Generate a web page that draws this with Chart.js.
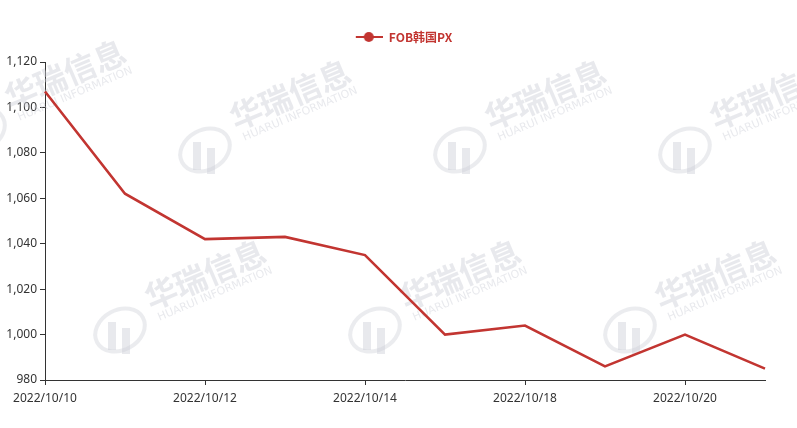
<!DOCTYPE html>
<html>
<head>
<meta charset="utf-8">
<script src="https://cdn.jsdelivr.net/npm/chart.js@4/dist/chart.umd.min.js"></script>
<style>
  html, body { margin: 0; padding: 0; background: #fff; }
  #wrap { width: 797px; height: 428px; }
</style>
</head>
<body>
<div id="wrap"><canvas id="chart" width="797" height="428"></canvas></div>
<script>
// データ
const dates = ['2022/10/10', '2022/10/11', '2022/10/12', '2022/10/13', '2022/10/14',
               '2022/10/17', '2022/10/18', '2022/10/19', '2022/10/20', '2022/10/21'];
const pxPrices = [1107, 1062, 1042, 1043, 1035, 1000, 1004, 986, 1000, 985];
const seriesName = 'FOB韩国PX';
const yMin = 980, yMax = 1120, yStep = 20;

const RED = '#c23531';
const MARKER_W = 70;

// 凡例マーカー（線＋丸）、左側は透明な余白
function legendMarker() {
    const c = document.createElement('canvas');
    c.width = MARKER_W; c.height = 14;
    const g = c.getContext('2d');
    g.strokeStyle = RED; g.lineWidth = 2;
    g.beginPath(); g.moveTo(MARKER_W - 27, 7); g.lineTo(MARKER_W, 7); g.stroke();
    g.fillStyle = RED;
    g.beginPath(); g.arc(MARKER_W - 14, 7, 5, 0, Math.PI * 2); g.fill();
    return c;
}

// 凡例の下に余白を追加
const legendGap = {
    id: 'legendGap',
    beforeInit(chart) {
        const fit = chart.legend.fit;
        chart.legend.fit = function () {
            fit.call(this);
            this.height += 9;
        };
    }
};

// 透かし（華瑞信息）
const watermark = {
    id: 'watermark',
    beforeDatasetsDraw(chart) {
        const ctx = chart.ctx;
        const spots = [[-20, 130], [205, 150], [460, 150], [685, 150], [120, 330], [375, 330], [630, 330]];
        ctx.save();
        spots.forEach(([x, y]) => {
            ctx.save();
            ctx.translate(x, y);
            ctx.strokeStyle = 'rgba(205,207,215,0.4)';
            ctx.lineWidth = 4;
            ctx.beginPath(); ctx.ellipse(0, 0, 26, 20, -0.5, 0, Math.PI * 2); ctx.stroke();
            ctx.fillStyle = 'rgba(205,207,215,0.45)';
            ctx.fillRect(-12, -8, 8, 28);
            ctx.fillRect(2, -2, 8, 26);
            ctx.rotate(-0.4);
            ctx.font = 'bold 32px "Noto Sans CJK SC"';
            ctx.fillText('华瑞信息', 36, -18);
            ctx.font = '11px "DejaVu Sans"';
            ctx.fillText('HUARUI INFORMATION', 40, 4);
            ctx.restore();
        });
        ctx.restore();
    }
};

new Chart(document.getElementById('chart'), {
    type: 'line',
    data: {
        labels: dates,
        datasets: [{
            label: seriesName,
            data: pxPrices,
            borderColor: RED,
            backgroundColor: RED,
            borderWidth: 2.6,
            pointRadius: 0,
            pointHoverRadius: 0,
            tension: 0,
            pointStyle: legendMarker()
        }]
    },
    options: {
        responsive: false,
        animation: false,
        layout: { padding: { left: 0, right: 32, top: 12, bottom: 0 } },
        plugins: {
            legend: {
                position: 'top',
                labels: {
                    usePointStyle: true,
                    pointStyleWidth: MARKER_W,
                    color: RED,
                    font: { family: 'Microsoft YaHei, "Noto Sans CJK SC", sans-serif', size: 12, weight: 'bold' },
                    padding: 19
                }
            },
            tooltip: { enabled: false }
        },
        scales: {
            x: {
                offset: false,
                afterFit: s => { s.height = 48; },
                border: { color: '#333', width: 1 },
                grid: { drawOnChartArea: false, tickLength: 5, color: '#333' },
                ticks: {
                    autoSkip: false,
                    maxRotation: 0,
                    padding: 6,
                    color: '#333',
                    font: { family: 'Microsoft YaHei, "Noto Sans", sans-serif', size: 12 },
                    callback: (v, i) => (i % 2 === 0 ? dates[i] : null)
                }
            },
            y: {
                min: yMin,
                max: yMax,
                afterFit: s => { s.width = 45; },
                border: { color: '#333', width: 1 },
                grid: { drawOnChartArea: false, tickLength: 5, color: '#333' },
                ticks: {
                    stepSize: yStep,
                    padding: 3,
                    color: '#333',
                    font: { family: 'Microsoft YaHei, "Noto Sans", sans-serif', size: 12 },
                    callback: v => v.toLocaleString('en-US')
                }
            }
        }
    },
    plugins: [legendGap, watermark]
});
</script>
</body>
</html>
